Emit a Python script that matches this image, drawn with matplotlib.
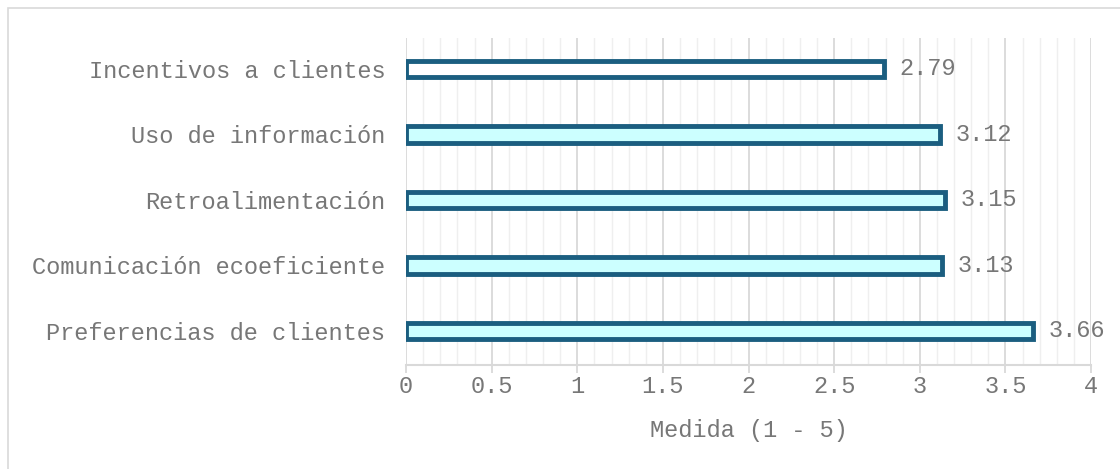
import matplotlib
matplotlib.use("Agg")
import numpy as np
import matplotlib.pyplot as plt
from matplotlib.patches import Rectangle
from matplotlib.ticker import MultipleLocator

categories = ["Preferencias de clientes", "Comunicación ecoeficiente",
              "Retroalimentación", "Uso de información", "Incentivos a clientes"]
values = [3.66, 3.13, 3.15, 3.12, 2.79]
fills = ["#CCFFFF", "#CCFFFF", "#CCFFFF", "#CCFFFF", "#FFFFFF"]
x_ticks = [0, 0.5, 1, 1.5, 2, 2.5, 3, 3.5, 4]
x_tick_labels = ["0", "0.5", "1", "1.5", "2", "2.5", "3", "3.5", "4"]
x_label = "Medida (1 - 5)"

plt.rcParams["font.family"] = ["Liberation Mono", "DejaVu Sans Mono"]
text_color = "#777777"
edge_color = "#1B5E80"


def main():
    fig = plt.figure(figsize=(11.2, 4.69), dpi=100)
    fig.patches.append(Rectangle((8 / 1120, -0.1), 1.2, (469 - 8) / 469 + 0.1,
                                 transform=fig.transFigure, fill=False,
                                 edgecolor="#d9d9d9", linewidth=1.2))
    ax = fig.add_axes([406 / 1120, 1 - 365 / 469, (1091 - 406) / 1120, (365 - 38) / 469])

    y = np.arange(len(categories))
    ax.barh(y, values, height=0.25, color=fills, edgecolor=edge_color,
            linewidth=3.5, zorder=3)
    for yi, v in zip(y, values):
        ax.text(v + 0.09, yi, f"{v:.2f}", va="center", ha="left",
                fontsize=17, color=text_color, zorder=4)

    ax.set_xlim(0, 4)
    ax.set_ylim(-0.52, 4.47)
    ax.set_yticks(y)
    ax.set_yticklabels(categories, fontsize=17, color=text_color)
    ax.set_xticks(x_ticks)
    ax.set_xticklabels(x_tick_labels, fontsize=17, color=text_color)
    ax.xaxis.set_minor_locator(MultipleLocator(0.1))
    ax.grid(axis="x", which="major", color="#d9d9d9", linewidth=1.3, zorder=0)
    ax.grid(axis="x", which="minor", color="#efefef", linewidth=1.0, zorder=0)
    ax.set_axisbelow(True)

    for s in ["top", "right", "left"]:
        ax.spines[s].set_visible(False)
    ax.spines["bottom"].set_color("#d9d9d9")
    ax.spines["bottom"].set_linewidth(1.5)
    ax.tick_params(axis="y", length=0, pad=15)
    ax.tick_params(axis="x", which="major", length=6, color="#d9d9d9", width=1.3, pad=1)
    ax.tick_params(axis="x", which="minor", length=0)

    ax.set_xlabel(x_label, fontsize=17, color=text_color, labelpad=15)

    fig.savefig("out.png", dpi=100)


if __name__ == '__main__':
    main()
